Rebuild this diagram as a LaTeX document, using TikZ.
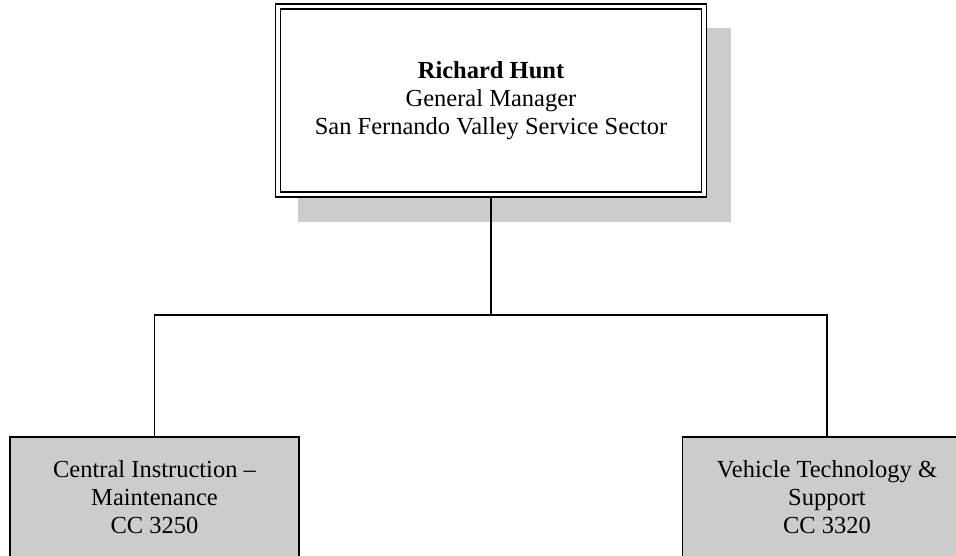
\documentclass[tikz,border=0pt]{standalone}
\usepackage{fontspec}
\setmainfont{Liberation Serif}
\definecolor{boxgray}{RGB}{204,204,204}
\tikzset{
  txt/.style={font=\fontsize{24.5}{28}\selectfont, align=center, text=black},
  headbox/.style={txt, draw, line width=1.5pt, double, double distance=3.5pt, fill=white,
    minimum width=426pt, minimum height=188pt, inner sep=0pt},
  unitbox/.style={txt, draw, line width=1.6pt, fill=boxgray,
    minimum width=289pt, minimum height=121pt, inner sep=0pt},
  link/.style={line width=1.6pt}
}
\begin{document}
\begin{tikzpicture}[x=1pt,y=1pt]
\useasboundingbox (0,0) rectangle (956,-555);
\clip (0,0) rectangle (956,-555);
\fill[boxgray] (298,-28) rectangle (731,-222);
\node[headbox] (top) at (491,-100.5) {\textbf{Richard Hunt}\\General Manager\\San Fernando Valley Service Sector};
\node[unitbox] (left) at (154.5,-497.5) {Central Instruction --\\Maintenance\\CC 3250};
\node[unitbox] (right) at (827,-497.5) {Vehicle Technology \&\\Support\\CC 3320};
\coordinate (j) at (491,-315);
\coordinate (jl) at (left.north |- j);
\coordinate (jr) at (right.north |- j);
\draw[link] ([yshift=-2.5pt]top.south) -- (j);
\draw[link] (left.north) -- (jl) -- (jr) -- (right.north);
\end{tikzpicture}
\end{document}
